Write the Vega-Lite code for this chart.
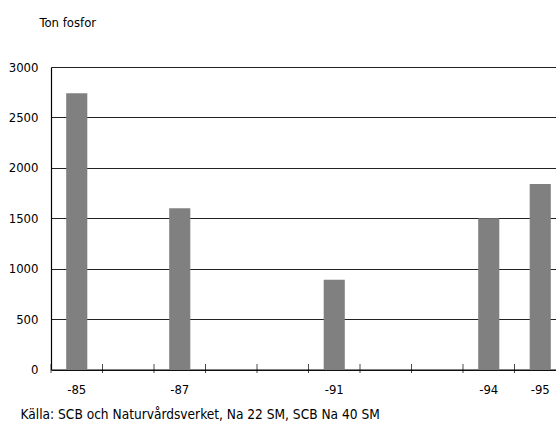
{
  "$schema": "https://vega.github.io/schema/vega-lite/v6.json",
  "autosize": {"type": "none"},
  "width": 505,
  "height": 302.5,
  "padding": {"left": 51, "top": 67, "right": 0, "bottom": 51.5},
  "background": "white",
  "config": {
    "font": "'Liberation Sans Narrow', 'DejaVu Sans Condensed', sans-serif",
    "view": {"stroke": null},
    "axis": {
      "labelFont": "'Liberation Sans Narrow', 'DejaVu Sans Condensed', sans-serif",
      "titleFont": "'Liberation Sans Narrow', 'DejaVu Sans Condensed', sans-serif",
      "labelFontSize": 13,
      "titleFontSize": 13,
      "titleFontWeight": "normal",
      "labelColor": "black",
      "titleColor": "black",
      "domainColor": "black",
      "domainWidth": 1.2
    }
  },
  "data": {
    "values": [
      {"year": "-85", "value": 2740},
      {"year": "-87", "value": 1600},
      {"year": "-91", "value": 890},
      {"year": "-94", "value": 1500},
      {"year": "-95", "value": 1840}
    ]
  },
  "layer": [
    {
      "mark": {"type": "bar", "color": "#808080", "width": {"band": 0.41}},
      "encoding": {
        "x": {
          "field": "year",
          "type": "nominal",
          "scale": {
            "domain": ["-85", "-86", "-87", "-88", "-89", "-91", "-92", "-93", "-94", "-95"],
            "range": [0, 515],
            "paddingInner": 0,
            "paddingOuter": 0
          },
          "axis": {
            "title": "Källa: SCB och Naturvårdsverket, Na 22 SM, SCB Na 40 SM",
            "titleAnchor": "start",
            "titleAlign": "left",
            "titleX": -31,
            "titleY": 49,
            "titleFontSize": 13.6,
            "titleBaseline": "alphabetic",
            "labelAngle": 0,
            "labelPadding": 14,
            "ticks": false,
            "labelExpr": "indexof(['-85','-87','-91','-94','-95'], datum.label) >= 0 ? datum.label : ''"
          }
        },
        "y": {
          "field": "value",
          "type": "quantitative",
          "scale": {"domain": [0, 3000], "nice": false},
          "axis": {
            "title": "Ton fosfor",
            "titleAngle": 0,
            "titleAlign": "left",
            "titleBaseline": "middle",
            "titleX": -12,
            "titleY": -45,
            "values": [0, 500, 1000, 1500, 2000, 2500, 3000],
            "format": "d",
            "grid": true,
            "gridColor": "#222222",
            "gridWidth": 1,
            "ticks": false,
            "labelPadding": 13
          }
        }
      }
    },
    {
      "data": {
        "values": [
          {"year": "-85"}, {"year": "-86"}, {"year": "-87"}, {"year": "-88"}, {"year": "-89"},
          {"year": "-91"}, {"year": "-92"}, {"year": "-93"}, {"year": "-94"}, {"year": "-95"}
        ]
      },
      "mark": {"type": "tick", "orient": "vertical", "color": "black", "size": 9, "thickness": 1, "yOffset": -1},
      "encoding": {
        "x": {"field": "year", "type": "nominal", "bandPosition": 0},
        "y": {"datum": 0}
      }
    }
  ]
}
